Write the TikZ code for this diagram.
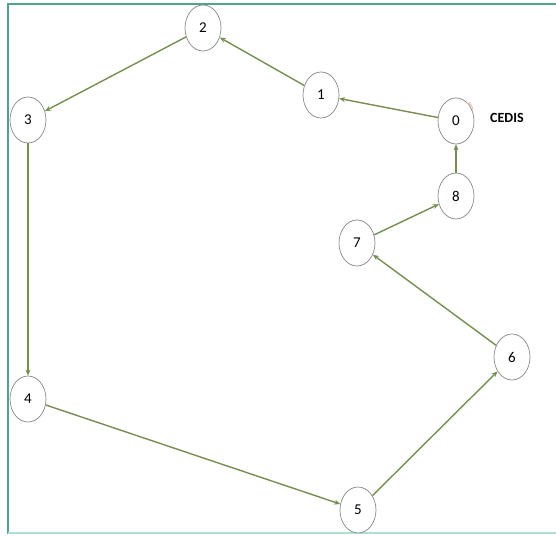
\documentclass[tikz,border=0pt]{standalone}
\usepackage{fontspec}
\setmainfont{Carlito}
\usetikzlibrary{arrows.meta,shapes.geometric}
\definecolor{edgegreen}{RGB}{118,142,80}
\definecolor{framegreen}{RGB}{80,165,135}
\definecolor{framelight}{RGB}{175,225,210}
\definecolor{nodegray}{RGB}{135,135,135}
\begin{document}
\begin{tikzpicture}[x=1pt,y=-1pt,
  vtx/.style={draw=nodegray,line width=0.7pt,ellipse,minimum width=36pt,minimum height=46pt,inner sep=0pt,font=\fontsize{15}{15}\selectfont,fill=white},
  edge/.style={draw=edgegreen,line width=1.4pt,-{Stealth[length=6pt,width=5pt]}}]
\useasboundingbox (0,0) rectangle (556,535);
\fill[white] (0,0) rectangle (556,535);
\draw[framegreen,line width=1.5pt] (8,534) -- (8,4) -- (556,4);
\draw[framelight,line width=1.2pt] (8,533) -- (556,533);
\node[vtx] (n0) at (456,121) {0};
\node[vtx] (n1) at (321,95) {1};
\node[vtx] (n2) at (203,28) {2};
\node[vtx] (n3) at (28,120) {3};
\node[vtx] (n4) at (28,399) {4};
\node[vtx] (n5) at (358,510) {5};
\node[vtx] (n6) at (512,357) {6};
\node[vtx] (n7) at (357,243) {7};
\node[vtx] (n8) at (456,196) {8};
\node[font=\bfseries\fontsize{14}{14}\selectfont,anchor=west,inner sep=0pt] (cedis) at (490,118) {CEDIS};
\draw[edge] (n0) -- (n1);
\draw[edge] (n1) -- (n2);
\draw[edge] (n2) -- (n3);
\draw[edge] (n3) -- (n4);
\draw[edge] (n4) -- (n5);
\draw[edge] (n5) -- (n6);
\draw[edge] (n6) -- (n7);
\draw[edge] (n7) -- (n8);
\draw[edge] (n8) -- (n0);
\draw[draw={rgb,255:red,230;green,190;blue,180},line width=0.8pt,-{Stealth[length=4pt,width=4pt]}] ([xshift=4pt,yshift=-6pt]n0.north east) to[bend right=40] ([xshift=-2pt,yshift=1pt]n0.north east);
\end{tikzpicture}
\end{document}
